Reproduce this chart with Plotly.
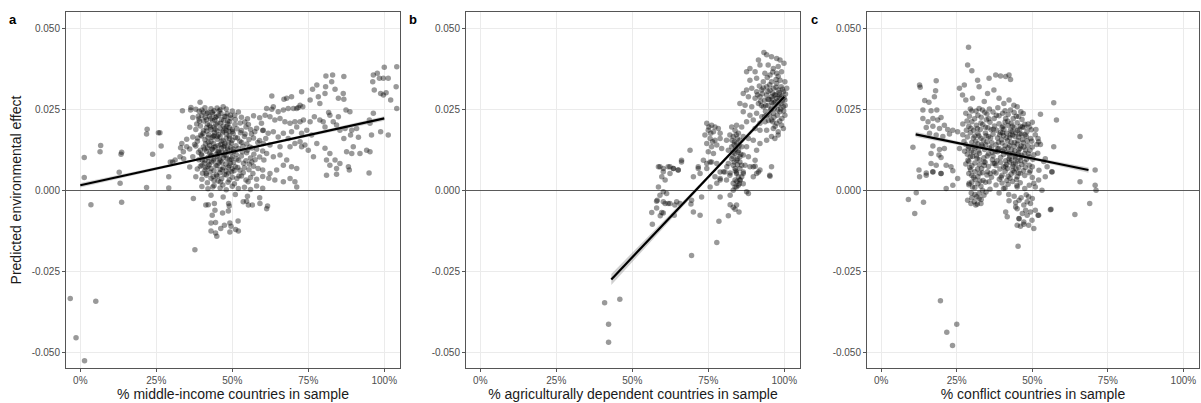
import plotly.graph_objects as go

# ---------------- data ----------------
panel_letters = ["a", "b", "c"]
x_titles = ["% middle-income countries in sample",
            "% agriculturally dependent countries in sample",
            "% conflict countries in sample"]
y_title = "Predicted environmental effect"
x_tickvals = [0, 0.25, 0.5, 0.75, 1.0]
x_ticktext = ["0%", "25%", "50%", "75%", "100%"]
y_tickvals = [-0.05, -0.025, 0.0, 0.025, 0.05]
y_ticktext = ["-0.050", "-0.025", "0.000", "0.025", "0.050"]

a_points = [
    (-0.033, -0.0333), (-0.014, -0.0454), (0.014, -0.0525), (0.051, -0.0341), (0.377, -0.0183),
    (0.035, -0.0044), (0.136, -0.0036), (0.013, 0.0102), (0.013, 0.0040), (0.067, 0.0139),
    (0.065, 0.0119), (0.136, 0.0118), (0.134, 0.0112), (0.128, 0.0056), (0.131, 0.0022),
    (0.220, 0.0189), (0.218, 0.0174), (0.257, 0.0178), (0.262, 0.0178), (0.238, 0.0112),
    (0.266, 0.0137), (0.218, 0.0009), (0.291, 0.0042), (0.291, 0.0008), (0.336, 0.0246),
    (0.364, 0.0256), (0.363, 0.0248), (0.394, 0.0272), (0.372, -0.0025), (0.413, -0.0045),
    (0.304, 0.0088), (0.296, 0.0088), (0.312, 0.0094), (0.328, 0.0104), (0.339, 0.0119),
    (0.350, 0.0135), (0.334, 0.0145),
    # below zero under the main cluster
    (0.421, -0.0044), (0.441, -0.0040), (0.434, -0.0076), (0.443, -0.0061), (0.430, -0.0100),
    (0.445, -0.0099), (0.430, -0.0125), (0.445, -0.0131), (0.449, -0.0141), (0.462, -0.0117),
    (0.468, -0.0069), (0.474, -0.0107), (0.488, -0.0040), (0.490, -0.0048), (0.487, -0.0063),
    (0.492, -0.0100), (0.492, -0.0128), (0.496, -0.0110), (0.511, -0.0120), (0.520, -0.0125),
    (0.519, -0.0094), (0.536, -0.0035), (0.553, -0.0045), (0.566, -0.0045), (0.591, -0.0040),
    (0.613, -0.0056), (0.616, -0.0048), (0.547, -0.0033),
    # main cluster
    (0.38, 0.0250), (0.40, 0.0248), (0.41, 0.0255), (0.43, 0.0252), (0.44, 0.0246), (0.45, 0.0254),
    (0.46, 0.0249), (0.48, 0.0251), (0.50, 0.0245), (0.52, 0.0242), (0.47, 0.0258), (0.42, 0.0241),
    (0.37, 0.0225), (0.39, 0.0220), (0.40, 0.0231), (0.415, 0.0218), (0.425, 0.0228), (0.435, 0.0215),
    (0.445, 0.0225), (0.455, 0.0232), (0.465, 0.0219), (0.475, 0.0228), (0.485, 0.0214), (0.495, 0.0223),
    (0.51, 0.0219), (0.53, 0.0226), (0.55, 0.0221), (0.57, 0.0230), (0.59, 0.0224),
    (0.36, 0.0195), (0.38, 0.0188), (0.395, 0.0199), (0.405, 0.0184), (0.415, 0.0193), (0.425, 0.0201),
    (0.43, 0.0187), (0.44, 0.0196), (0.45, 0.0183), (0.46, 0.0192), (0.47, 0.0199), (0.48, 0.0186),
    (0.49, 0.0194), (0.50, 0.0182), (0.515, 0.0190), (0.53, 0.0185), (0.545, 0.0196), (0.56, 0.0188),
    (0.58, 0.0192), (0.60, 0.0185),
    (0.35, 0.0158), (0.37, 0.0165), (0.385, 0.0152), (0.40, 0.0168), (0.41, 0.0156), (0.42, 0.0163),
    (0.43, 0.0151), (0.44, 0.0169), (0.45, 0.0158), (0.46, 0.0165), (0.47, 0.0153), (0.48, 0.0161),
    (0.49, 0.0168), (0.50, 0.0155), (0.51, 0.0163), (0.525, 0.0152), (0.54, 0.0166), (0.555, 0.0157),
    (0.57, 0.0162), (0.59, 0.0154), (0.61, 0.0160),
    (0.33, 0.0132), (0.36, 0.0128), (0.38, 0.0137), (0.395, 0.0124), (0.405, 0.0134), (0.415, 0.0121),
    (0.425, 0.0139), (0.435, 0.0127), (0.445, 0.0135), (0.455, 0.0122), (0.465, 0.0131), (0.475, 0.0138),
    (0.485, 0.0125), (0.495, 0.0133), (0.505, 0.0120), (0.52, 0.0129), (0.535, 0.0136), (0.55, 0.0124),
    (0.565, 0.0131), (0.58, 0.0127), (0.60, 0.0122),
    (0.34, 0.0098), (0.37, 0.0104), (0.39, 0.0095), (0.40, 0.0108), (0.41, 0.0093), (0.42, 0.0102),
    (0.43, 0.0110), (0.44, 0.0097), (0.45, 0.0105), (0.46, 0.0091), (0.47, 0.0101), (0.48, 0.0108),
    (0.49, 0.0094), (0.50, 0.0103), (0.515, 0.0097), (0.53, 0.0106), (0.545, 0.0092), (0.56, 0.0100),
    (0.575, 0.0095), (0.59, 0.0103),
    (0.36, 0.0072), (0.385, 0.0066), (0.40, 0.0078), (0.41, 0.0063), (0.42, 0.0074), (0.43, 0.0068),
    (0.44, 0.0061), (0.45, 0.0077), (0.46, 0.0065), (0.47, 0.0071), (0.48, 0.0060), (0.49, 0.0076),
    (0.50, 0.0067), (0.51, 0.0073), (0.525, 0.0062), (0.54, 0.0070), (0.555, 0.0064), (0.57, 0.0075),
    (0.585, 0.0068), (0.60, 0.0063),
    (0.38, 0.0042), (0.40, 0.0035), (0.415, 0.0047), (0.43, 0.0038), (0.44, 0.0031), (0.45, 0.0044),
    (0.465, 0.0036), (0.48, 0.0048), (0.49, 0.0033), (0.50, 0.0041), (0.515, 0.0037), (0.53, 0.0045),
    (0.545, 0.0032), (0.56, 0.0040), (0.58, 0.0035), (0.60, 0.0043), (0.62, 0.0038),
    (0.40, 0.0012), (0.42, 0.0005), (0.44, 0.0015), (0.46, 0.0008), (0.48, 0.0002), (0.50, 0.0013),
    (0.52, 0.0006), (0.54, 0.0010), (0.56, 0.0003), (0.58, 0.0014), (0.60, 0.0007),
    (0.43, -0.0015), (0.47, -0.0020), (0.51, -0.0012), (0.55, -0.0018), (0.59, -0.0022),
    (0.422, 0.0172), (0.438, 0.0145), (0.452, 0.0208), (0.468, 0.0178), (0.478, 0.0118), (0.432, 0.0088),
    (0.447, 0.0112), (0.462, 0.0142), (0.485, 0.0205), (0.418, 0.0205), (0.441, 0.0179), (0.456, 0.0085),
    (0.472, 0.0216), (0.488, 0.0147), (0.426, 0.0115), (0.494, 0.0084), (0.412, 0.0144), (0.436, 0.0236),
    (0.459, 0.0055), (0.481, 0.0174),
    (0.392, 0.0213), (0.404, 0.0176), (0.417, 0.0238), (0.428, 0.0196), (0.433, 0.0128), (0.446, 0.0203),
    (0.451, 0.0166), (0.463, 0.0237), (0.467, 0.0118), (0.476, 0.0191), (0.483, 0.0098), (0.491, 0.0212),
    (0.497, 0.0146), (0.503, 0.0176), (0.508, 0.0232), (0.386, 0.0162), (0.398, 0.0112), (0.408, 0.0084),
    (0.419, 0.0131), (0.427, 0.0057), (0.439, 0.0092), (0.448, 0.0048), (0.457, 0.0116), (0.466, 0.0087),
    (0.474, 0.0049), (0.487, 0.0071), (0.496, 0.0116), (0.504, 0.0086), (0.512, 0.0138), (0.518, 0.0071),
    (0.527, 0.0178), (0.533, 0.0119), (0.541, 0.0211), (0.548, 0.0143), (0.556, 0.0081), (0.563, 0.0174),
    (0.571, 0.0112), (0.584, 0.0148), (0.596, 0.0207), (0.604, 0.0094), (0.376, 0.0142), (0.388, 0.0229),
    (0.402, 0.0053), (0.411, 0.0226), (0.423, 0.0089), (0.437, 0.0167), (0.442, 0.0218), (0.454, 0.0139),
    (0.461, 0.0026), (0.471, 0.0135), (0.479, 0.0229), (0.489, 0.0182), (0.498, 0.0058), (0.507, 0.0021),
    (0.522, 0.0045), (0.537, 0.0084), (0.552, 0.0027), (0.568, 0.0052), (0.434, 0.0241), (0.414, 0.0052),
    (0.383, 0.0205), (0.389, 0.0118), (0.396, 0.0171), (0.401, 0.0094), (0.406, 0.0214), (0.409, 0.0128),
    (0.413, 0.0069), (0.416, 0.0183), (0.421, 0.0149), (0.424, 0.0079), (0.429, 0.0221), (0.431, 0.0106),
    (0.434, 0.0163), (0.437, 0.0043), (0.440, 0.0133), (0.443, 0.0189), (0.446, 0.0076), (0.449, 0.0228),
    (0.452, 0.0119), (0.455, 0.0172), (0.458, 0.0098), (0.461, 0.0207), (0.464, 0.0152), (0.467, 0.0064),
    (0.470, 0.0183), (0.473, 0.0109), (0.476, 0.0145), (0.479, 0.0082), (0.482, 0.0197), (0.485, 0.0131),
    (0.488, 0.0054), (0.491, 0.0161), (0.494, 0.0232), (0.497, 0.0097), (0.500, 0.0189), (0.503, 0.0128),
    (0.506, 0.0061), (0.509, 0.0203), (0.513, 0.0111), (0.517, 0.0162), (0.521, 0.0093), (0.526, 0.0208),
    (0.531, 0.0148), (0.536, 0.0055), (0.542, 0.0174), (0.547, 0.0116), (0.553, 0.0203), (0.558, 0.0134),
    (0.564, 0.0088), (0.574, 0.0181), (0.418, 0.0024), (0.436, 0.0011), (0.453, 0.0029), (0.469, 0.0017),
    (0.486, 0.0025), (0.395, 0.0075), (0.391, 0.0244), (0.405, 0.0241), (0.457, 0.0245), (0.483, 0.0237),
    # middle band 0.60-0.73
    (0.613, 0.0253), (0.630, 0.0250), (0.635, 0.0258), (0.651, 0.0243), (0.668, 0.0248), (0.684, 0.0253),
    (0.701, 0.0253), (0.717, 0.0256), (0.732, 0.0258), (0.608, 0.0232), (0.624, 0.0227), (0.640, 0.0217),
    (0.657, 0.0222), (0.673, 0.0212), (0.690, 0.0207), (0.706, 0.0212), (0.723, 0.0212),
    (0.602, 0.0186), (0.618, 0.0176), (0.635, 0.0181), (0.651, 0.0165), (0.668, 0.0176), (0.684, 0.0160),
    (0.695, 0.0181), (0.706, 0.0145), (0.728, 0.0135), (0.690, 0.0135), (0.657, 0.0135), (0.624, 0.0140),
    (0.602, 0.0145), (0.613, 0.0114), (0.635, 0.0104), (0.657, 0.0109), (0.679, 0.0094), (0.695, 0.0073),
    (0.712, 0.0068), (0.668, 0.0078), (0.646, 0.0063), (0.624, 0.0052), (0.640, 0.0032), (0.668, 0.0027),
    (0.690, 0.0037), (0.706, 0.0027), (0.712, 0.0011),
    # right part
    (0.630, 0.0291), (0.670, 0.0281), (0.679, 0.0284), (0.695, 0.0289), (0.723, 0.0263), (0.712, 0.0253),
    (0.728, 0.0304), (0.756, 0.0279), (0.783, 0.0289), (0.788, 0.0268), (0.761, 0.0171), (0.745, 0.0186),
    (0.728, 0.0176), (0.712, 0.0196), (0.734, 0.0217), (0.756, 0.0212), (0.750, 0.0124), (0.767, 0.0104),
    (0.778, 0.0145), (0.739, 0.0140), (0.723, 0.0150),
    (0.808, 0.0353), (0.830, 0.0356), (0.867, 0.0351), (0.827, 0.0335), (0.778, 0.0325), (0.764, 0.0312),
    (0.807, 0.0320), (0.805, 0.0299), (0.838, 0.0312), (0.865, 0.0299), (0.849, 0.0284), (0.867, 0.0281),
    (0.817, 0.0240), (0.821, 0.0232), (0.849, 0.0227), (0.874, 0.0248), (0.887, 0.0243), (0.770, 0.0227),
    (0.788, 0.0217), (0.799, 0.0212), (0.805, 0.0196), (0.832, 0.0212), (0.843, 0.0202), (0.854, 0.0186),
    (0.871, 0.0191), (0.893, 0.0186), (0.909, 0.0191), (0.915, 0.0164), (0.867, 0.0160), (0.889, 0.0171),
    (0.898, 0.0135), (0.893, 0.0114), (0.876, 0.0119), (0.805, 0.0130), (0.821, 0.0114), (0.810, 0.0094),
    (0.838, 0.0094), (0.854, 0.0083), (0.821, 0.0078), (0.843, 0.0068), (0.882, 0.0073), (0.885, 0.0063),
    (0.810, 0.0047), (0.843, 0.0050), (0.920, 0.0114), (0.942, 0.0124),
    (1.000, 0.0380), (1.041, 0.0381), (0.964, 0.0356), (0.977, 0.0361), (0.984, 0.0346), (0.997, 0.0346),
    (1.013, 0.0346), (0.962, 0.0335), (0.967, 0.0310), (0.988, 0.0299), (0.997, 0.0294), (1.006, 0.0301),
    (1.039, 0.0320), (1.021, 0.0279), (1.041, 0.0253), (0.964, 0.0238), (0.958, 0.0171), (0.988, 0.0181),
    (1.013, 0.0171), (0.951, 0.0217), (0.953, 0.0207), (0.950, 0.0054), (0.953, 0.0119),
]

b_points = [
    (0.409, -0.0346), (0.422, -0.0412), (0.422, -0.0468), (0.459, -0.0335), (0.695, -0.0200),
    (0.778, -0.0160), (0.785, -0.0095), (0.816, -0.0078), (0.822, -0.0044), (0.832, -0.0052),
    (0.843, -0.0045), (0.851, -0.0066), (0.838, -0.0058), (0.564, -0.0068), (0.566, -0.0104),
    (0.580, -0.0054), (0.597, -0.0068), (0.602, -0.0069), (0.592, -0.0078), (0.638, -0.0076),
    (0.701, -0.0066), (0.723, -0.0076), (0.693, -0.0042), (0.580, -0.0033), (0.602, -0.0035),
    (0.618, -0.0040), (0.646, -0.0035),
    (0.586, 0.0011), (0.602, -0.0004), (0.591, -0.0015), (0.613, -0.0009), (0.582, -0.0030),
    (0.608, -0.0040), (0.624, -0.0040), (0.640, -0.0045), (0.657, -0.0040),
    (0.695, -0.0030), (0.728, -0.0020),
    (0.789, -0.0020), (0.778, 0.0022), (0.756, 0.0011), (0.789, 0.0037), (0.822, -0.0015),
    (0.876, -0.0004), (0.882, -0.0009), (0.832, 0.0001), (0.838, 0.0011),
    (0.586, 0.0073), (0.602, 0.0068), (0.624, 0.0073), (0.635, 0.0068), (0.651, 0.0063),
    (0.597, 0.0042), (0.608, 0.0032), (0.662, 0.0088), (0.717, 0.0068),
    (0.745, 0.0083), (0.761, 0.0088), (0.772, 0.0042), (0.789, 0.0057), (0.811, 0.0073),
    (0.822, 0.0054), (0.843, 0.0057), (0.860, 0.0078), (0.865, 0.0052), (0.898, 0.0073),
    (0.920, 0.0063), (0.953, 0.0044), (0.855, 0.0032), (0.832, 0.0022),
    (0.849, 0.0016),
    # upper cluster
    (0.933, 0.0425), (0.942, 0.0418), (0.958, 0.0412), (0.975, 0.0407), (0.986, 0.0402), (0.999, 0.0392),
    (0.915, 0.0402), (0.920, 0.0387), (0.947, 0.0387), (0.964, 0.0376), (0.980, 0.0382), (0.887, 0.0376),
    (0.876, 0.0366), (0.904, 0.0366), (0.936, 0.0361), (0.953, 0.0356), (0.975, 0.0361), (0.991, 0.0366),
    (0.887, 0.0340), (0.909, 0.0346), (0.931, 0.0335), (0.958, 0.0335), (0.975, 0.0330), (0.986, 0.0340),
    (1.002, 0.0335), (0.876, 0.0310), (0.893, 0.0315), (0.909, 0.0304), (0.926, 0.0310), (0.942, 0.0320),
    (0.964, 0.0315), (0.980, 0.0310), (0.997, 0.0304), (1.008, 0.0315), (0.865, 0.0299), (0.882, 0.0289),
    (0.904, 0.0284), (0.920, 0.0289), (0.942, 0.0294), (0.958, 0.0289), (0.975, 0.0284), (0.991, 0.0289),
    (1.002, 0.0279), (0.854, 0.0268), (0.871, 0.0263), (0.893, 0.0258), (0.915, 0.0268), (0.931, 0.0258),
    (0.947, 0.0263), (0.964, 0.0268), (0.980, 0.0263), (0.997, 0.0258), (0.865, 0.0243), (0.887, 0.0232),
    (0.909, 0.0238), (0.926, 0.0227), (0.942, 0.0232), (0.964, 0.0238), (0.986, 0.0243), (1.002, 0.0232),
    (0.898, 0.0217), (0.920, 0.0207), (0.937, 0.0212), (0.958, 0.0217), (0.975, 0.0207), (0.991, 0.0201),
    (0.997, 0.0191), (0.876, 0.0212), (0.904, 0.0191), (0.920, 0.0186), (0.942, 0.0186), (0.964, 0.0191),
    (0.980, 0.0181), (0.958, 0.0166), (0.969, 0.0160), (0.942, 0.0155), (0.920, 0.0145), (0.898, 0.0155),
    (0.882, 0.0160), (0.980, 0.0171), (0.952, 0.0047), (0.909, 0.0052), (0.904, 0.0075),
    (0.962, 0.0300), (0.985, 0.0295), (0.970, 0.0272), (0.950, 0.0280), (0.990, 0.0320), (0.955, 0.0248),
    (0.918, 0.0322), (0.928, 0.0298), (0.935, 0.0278), (0.946, 0.0305), (0.952, 0.0326), (0.961, 0.0282),
    (0.968, 0.0294), (0.973, 0.0318), (0.978, 0.0276), (0.983, 0.0301), (0.989, 0.0268), (0.994, 0.0312),
    (0.999, 0.0286), (1.004, 0.0297), (0.957, 0.0252), (0.966, 0.0226), (0.979, 0.0248), (0.992, 0.0222),
    (0.938, 0.0244), (0.925, 0.0262), (0.948, 0.0216), (0.970, 0.0198), (0.944, 0.0348), (0.962, 0.0365),
    (0.980, 0.0352),
    (0.912, 0.0295), (0.922, 0.0275), (0.931, 0.0316), (0.939, 0.0262), (0.946, 0.0281), (0.953, 0.0309),
    (0.959, 0.0271), (0.967, 0.0253), (0.972, 0.0295), (0.977, 0.0232), (0.984, 0.0285), (0.988, 0.0251),
    (0.993, 0.0276), (0.998, 0.0245), (1.003, 0.0262), (0.962, 0.0212), (0.985, 0.0214), (0.951, 0.0232),
    (0.935, 0.0228), (0.973, 0.0342),
    # vertical band near 0.83-0.87
    (0.838, 0.0186), (0.849, 0.0176), (0.832, 0.0166), (0.854, 0.0155), (0.843, 0.0145), (0.827, 0.0135),
    (0.849, 0.0124), (0.838, 0.0114), (0.854, 0.0104), (0.843, 0.0093), (0.832, 0.0078), (0.854, 0.0068),
    (0.843, 0.0052), (0.865, 0.0057), (0.860, 0.0042), (0.821, 0.0047), (0.838, 0.0032),
    (0.821, 0.0171), (0.865, 0.0166), (0.860, 0.0135), (0.832, 0.0119), (0.865, 0.0109), (0.827, 0.0098),
    (0.854, 0.0088), (0.838, 0.0068), (0.871, 0.0078), (0.849, 0.0042), (0.865, 0.0021), (0.843, 0.0011),
    (0.854, 0.0032), (0.810, 0.0155), (0.816, 0.0124), (0.816, 0.0083), (0.805, 0.0057), (0.876, 0.0135),
    (0.882, 0.0104), (0.887, 0.0073), (0.904, 0.0093), (0.909, 0.0124), (0.898, 0.0042), (0.915, 0.0057),
    (0.958, 0.0073), (0.860, 0.0196), (0.843, 0.0201), (0.827, 0.0196),
    (0.846, 0.0160), (0.836, 0.0150), (0.851, 0.0138), (0.840, 0.0128), (0.846, 0.0098), (0.835, 0.0088),
    (0.842, 0.0172), (0.835, 0.0141), (0.848, 0.0118), (0.831, 0.0105), (0.846, 0.0079), (0.839, 0.0061),
    (0.852, 0.0021), (0.828, 0.0155), (0.857, 0.0112), (0.844, 0.0028),
    # left cluster near 0.70-0.79
    (0.745, 0.0207), (0.761, 0.0201), (0.772, 0.0196), (0.783, 0.0191), (0.750, 0.0186), (0.767, 0.0181),
    (0.789, 0.0176), (0.739, 0.0171), (0.756, 0.0160), (0.772, 0.0155), (0.789, 0.0160), (0.745, 0.0145),
    (0.761, 0.0135), (0.778, 0.0140), (0.750, 0.0119), (0.767, 0.0114), (0.794, 0.0129), (0.734, 0.0093),
    (0.756, 0.0088), (0.778, 0.0083), (0.745, 0.0068), (0.717, 0.0073), (0.690, 0.0124), (0.662, 0.0093),
    (0.635, 0.0068), (0.618, 0.0073), (0.602, 0.0058), (0.591, 0.0073), (0.624, 0.0052),
    (0.651, 0.0063), (0.701, 0.0042), (0.723, 0.0052), (0.800, 0.0058), (0.810, 0.0032), (0.789, 0.0032),
    (0.752, 0.0196), (0.758, 0.0176), (0.764, 0.0150),
]

c_points = [
    (0.196, -0.0340), (0.217, -0.0437), (0.250, -0.0412), (0.236, -0.0478), (0.453, -0.0172),
    (0.111, -0.0071), (0.140, -0.0036), (0.090, -0.0028), (0.562, -0.0058), (0.641, -0.0074),
    (0.690, -0.0040), (0.412, -0.0066), (0.417, -0.0081), (0.450, -0.0056), (0.456, -0.0086),
    (0.467, -0.0071), (0.483, -0.0076), (0.494, -0.0066), (0.499, -0.0092), (0.519, -0.0076),
    (0.505, -0.0117), (0.488, -0.0107), (0.472, -0.0104), (0.461, -0.0110), (0.450, -0.0107),
    (0.116, -0.0007),
    (0.286, -0.0030), (0.297, -0.0040), (0.313, -0.0045), (0.330, -0.0040), (0.324, -0.0025),
    (0.308, -0.0035), (0.324, -0.0009), (0.335, 0.0001), (0.302, 0.0011), (0.291, 0.0022),
    (0.318, -0.0042), (0.300, -0.0022),
    (0.423, -0.0032), (0.445, -0.0038), (0.456, -0.0030), (0.472, -0.0045), (0.483, -0.0035),
    (0.494, -0.0040), (0.478, -0.0061), (0.445, -0.0051), (0.456, -0.0087), (0.472, -0.0097),
    (0.510, -0.0061), (0.521, -0.0076), (0.560, -0.0059),
    (0.127, 0.0042), (0.149, 0.0047), (0.171, 0.0058), (0.198, 0.0052), (0.215, 0.0006),
    (0.237, 0.0016), (0.253, 0.0037), (0.521, 0.0032), (0.510, 0.0011), (0.532, 0.0001),
    (0.543, 0.0042), (0.565, 0.0058),
    # sparse left / top
    (0.289, 0.0441), (0.286, 0.0387), (0.300, 0.0369), (0.127, 0.0325), (0.129, 0.0318),
    (0.182, 0.0338), (0.180, 0.0307), (0.144, 0.0277), (0.158, 0.0272), (0.176, 0.0289),
    (0.138, 0.0248), (0.165, 0.0246), (0.184, 0.0248), (0.138, 0.0222), (0.155, 0.0212),
    (0.171, 0.0222), (0.187, 0.0217), (0.198, 0.0225), (0.149, 0.0194), (0.171, 0.0198),
    (0.193, 0.0191), (0.209, 0.0201), (0.220, 0.0188), (0.160, 0.0176), (0.182, 0.0171),
    (0.204, 0.0166), (0.226, 0.0174), (0.237, 0.0186), (0.253, 0.0181), (0.105, 0.0133),
    (0.171, 0.0137), (0.193, 0.0126), (0.209, 0.0129), (0.259, 0.0129), (0.165, 0.0114),
    (0.191, 0.0109), (0.198, 0.0102), (0.165, 0.0083), (0.182, 0.0078), (0.215, 0.0078),
    (0.231, 0.0073), (0.171, 0.0057), (0.198, 0.0052), (0.237, 0.0061), (0.125, 0.0063),
    (0.149, 0.0054),
    # sparse right
    (0.571, 0.0270), (0.580, 0.0217), (0.527, 0.0235), (0.571, 0.0135), (0.519, 0.0160),
    (0.521, 0.0150), (0.565, 0.0057), (0.543, 0.0098), (0.538, 0.0089), (0.549, 0.0073),
    (0.658, 0.0166), (0.708, 0.0063), (0.708, 0.0016), (0.711, 0.0001), (0.658, 0.0027),
    # top of dense cluster
    (0.324, 0.0320), (0.357, 0.0346), (0.379, 0.0356), (0.395, 0.0353), (0.412, 0.0351),
    (0.423, 0.0356), (0.428, 0.0342), (0.352, 0.0299), (0.341, 0.0274), (0.324, 0.0253),
    (0.373, 0.0310), (0.390, 0.0284), (0.406, 0.0268), (0.423, 0.0279), (0.439, 0.0263),
    (0.450, 0.0258), (0.319, 0.0340), (0.275, 0.0325), (0.259, 0.0315), (0.269, 0.0294),
    (0.280, 0.0279), (0.302, 0.0284),
    # dense core
    (0.28, 0.0238), (0.30, 0.0245), (0.32, 0.0232), (0.335, 0.0248), (0.35, 0.0236), (0.37, 0.0242),
    (0.39, 0.0230), (0.41, 0.0246), (0.42, 0.0234), (0.44, 0.0240), (0.455, 0.0228), (0.47, 0.0237),
    (0.27, 0.0205), (0.29, 0.0198), (0.30, 0.0212), (0.315, 0.0201), (0.33, 0.0208), (0.345, 0.0195),
    (0.36, 0.0210), (0.375, 0.0199), (0.39, 0.0206), (0.40, 0.0193), (0.41, 0.0211), (0.42, 0.0200),
    (0.43, 0.0207), (0.44, 0.0194), (0.45, 0.0209), (0.46, 0.0198), (0.475, 0.0204), (0.49, 0.0196),
    (0.50, 0.0210),
    (0.27, 0.0172), (0.285, 0.0165), (0.295, 0.0178), (0.31, 0.0168), (0.32, 0.0175), (0.33, 0.0161),
    (0.345, 0.0177), (0.355, 0.0166), (0.37, 0.0173), (0.385, 0.0162), (0.395, 0.0179), (0.405, 0.0169),
    (0.415, 0.0176), (0.425, 0.0163), (0.435, 0.0171), (0.445, 0.0178), (0.455, 0.0165), (0.465, 0.0174),
    (0.48, 0.0167), (0.495, 0.0160), (0.51, 0.0172),
    (0.28, 0.0142), (0.29, 0.0135), (0.30, 0.0148), (0.31, 0.0131), (0.32, 0.0144), (0.335, 0.0137),
    (0.35, 0.0150), (0.365, 0.0133), (0.38, 0.0141), (0.39, 0.0129), (0.40, 0.0146), (0.41, 0.0138),
    (0.42, 0.0132), (0.43, 0.0149), (0.44, 0.0136), (0.45, 0.0143), (0.46, 0.0130), (0.47, 0.0147),
    (0.485, 0.0139), (0.50, 0.0134), (0.515, 0.0142),
    (0.285, 0.0112), (0.295, 0.0104), (0.305, 0.0118), (0.315, 0.0107), (0.325, 0.0115), (0.34, 0.0101),
    (0.355, 0.0113), (0.37, 0.0106), (0.385, 0.0119), (0.395, 0.0102), (0.405, 0.0111), (0.415, 0.0117),
    (0.425, 0.0104), (0.435, 0.0113), (0.445, 0.0100), (0.455, 0.0116), (0.465, 0.0108), (0.475, 0.0114),
    (0.49, 0.0103), (0.505, 0.0110),
    (0.28, 0.0082), (0.29, 0.0089), (0.30, 0.0076), (0.31, 0.0085), (0.325, 0.0079), (0.34, 0.0088),
    (0.355, 0.0074), (0.37, 0.0083), (0.38, 0.0077), (0.395, 0.0086), (0.405, 0.0072), (0.415, 0.0081),
    (0.425, 0.0088), (0.435, 0.0075), (0.445, 0.0084), (0.455, 0.0071), (0.465, 0.0080), (0.475, 0.0087),
    (0.49, 0.0078), (0.50, 0.0073),
    (0.29, 0.0052), (0.30, 0.0046), (0.31, 0.0058), (0.32, 0.0043), (0.335, 0.0055), (0.35, 0.0048),
    (0.365, 0.0041), (0.38, 0.0054), (0.40, 0.0047), (0.41, 0.0059), (0.42, 0.0044), (0.43, 0.0051),
    (0.44, 0.0057), (0.45, 0.0042), (0.46, 0.0053), (0.475, 0.0046), (0.49, 0.0055), (0.50, 0.0040),
    (0.29, 0.0018), (0.30, 0.0026), (0.31, 0.0009), (0.32, 0.0021), (0.33, 0.0013), (0.345, 0.0025),
    (0.36, 0.0004), (0.38, 0.0017), (0.40, 0.0023), (0.41, 0.0008), (0.42, 0.0019), (0.435, 0.0028),
    (0.45, 0.0011), (0.46, 0.0024), (0.475, 0.0006), (0.49, 0.0016), (0.505, 0.0022),
    (0.305, 0.0162), (0.325, 0.0095), (0.342, 0.0126), (0.318, 0.0191), (0.298, 0.0121), (0.332, 0.0068),
    (0.428, 0.0186), (0.442, 0.0122), (0.452, 0.0091), (0.418, 0.0153), (0.468, 0.0157), (0.436, 0.0062),
    (0.458, 0.0189), (0.478, 0.0125), (0.412, 0.0092), (0.448, 0.0034), (0.364, 0.0187), (0.378, 0.0121),
    (0.352, 0.0058), (0.398, 0.0156),
    (0.292, 0.0229), (0.306, 0.0186), (0.313, 0.0152), (0.322, 0.0122), (0.328, 0.0188), (0.338, 0.0155),
    (0.344, 0.0087), (0.348, 0.0218), (0.358, 0.0131), (0.362, 0.0162), (0.368, 0.0095), (0.374, 0.0222),
    (0.382, 0.0186), (0.388, 0.0149), (0.393, 0.0066), (0.402, 0.0178), (0.407, 0.0127), (0.412, 0.0222),
    (0.418, 0.0068), (0.422, 0.0114), (0.427, 0.0171), (0.432, 0.0093), (0.437, 0.0222), (0.441, 0.0148),
    (0.446, 0.0067), (0.451, 0.0185), (0.456, 0.0127), (0.461, 0.0093), (0.466, 0.0219), (0.471, 0.0061),
    (0.476, 0.0172), (0.481, 0.0096), (0.486, 0.0205), (0.492, 0.0124), (0.497, 0.0187), (0.502, 0.0096),
    (0.287, 0.0093), (0.296, 0.0063), (0.303, 0.0136), (0.311, 0.0034), (0.317, 0.0099), (0.326, 0.0053),
    (0.331, 0.0226), (0.337, 0.0031), (0.346, 0.0141), (0.353, 0.0193), (0.357, 0.0027), (0.367, 0.0118),
    (0.373, 0.0058), (0.383, 0.0092), (0.391, 0.0035), (0.403, 0.0198), (0.416, 0.0031), (0.425, 0.0139),
    (0.433, 0.0181), (0.443, 0.0105), (0.453, 0.0153), (0.463, 0.0137), (0.473, 0.0195), (0.483, 0.0153),
    (0.276, 0.0121), (0.282, 0.0186), (0.274, 0.0151), (0.295, 0.0251), (0.343, 0.0241), (0.386, 0.0255),
    (0.428, 0.0248), (0.462, 0.0243), (0.512, 0.0188), (0.518, 0.0115), (0.522, 0.0062), (0.527, 0.0142),
    (0.310, -0.0012), (0.340, -0.0015), (0.390, -0.0008), (0.440, -0.0018), (0.480, -0.0013),
    (0.500, -0.0025),
    (0.284, 0.0214), (0.288, 0.0128), (0.293, 0.0071), (0.297, 0.0192), (0.302, 0.0105), (0.306, 0.0041),
    (0.309, 0.0221), (0.314, 0.0135), (0.319, 0.0066), (0.323, 0.0168), (0.327, 0.0029), (0.332, 0.0141),
    (0.336, 0.0203), (0.341, 0.0077), (0.347, 0.0169), (0.351, 0.0106), (0.356, 0.0221), (0.361, 0.0052),
    (0.366, 0.0147), (0.371, 0.0189), (0.376, 0.0083), (0.381, 0.0232), (0.386, 0.0128), (0.392, 0.0172),
    (0.397, 0.0041), (0.401, 0.0122), (0.406, 0.0189), (0.411, 0.0075), (0.414, 0.0162), (0.419, 0.0213),
    (0.423, 0.0097), (0.426, 0.0038), (0.431, 0.0125), (0.434, 0.0198), (0.438, 0.0081), (0.443, 0.0166),
    (0.447, 0.0229), (0.451, 0.0112), (0.454, 0.0054), (0.459, 0.0174), (0.463, 0.0103), (0.467, 0.0196),
    (0.472, 0.0134), (0.477, 0.0071), (0.482, 0.0181), (0.487, 0.0113), (0.493, 0.0061), (0.498, 0.0152),
    (0.314, 0.0245), (0.358, 0.0251), (0.402, 0.0238), (0.449, 0.0015), (0.422, -0.0012), (0.347, -0.0005),
    (0.298, -0.0008), (0.331, -0.0028), (0.316, -0.0019), (0.463, -0.0022), (0.488, -0.0019), (0.405, 0.0006),
]

# linear-fit lines with their confidence band
a_fit_x = [0.0, 0.5, 1.0]
a_fit_y = [0.0016, 0.0119, 0.0222]
a_fit_se = [0.0007, 0.0003, 0.0007]
b_fit_x = [0.431, 0.75, 1.0]
b_fit_y = [-0.0274, 0.0041, 0.0289]
b_fit_se = [0.0017, 0.0005, 0.0009]
c_fit_x = [0.114, 0.40, 0.686]
c_fit_y = [0.0173, 0.0118, 0.0063]
c_fit_se = [0.0008, 0.0003, 0.0008]

# ---------------- figure ----------------
W, H = 1201, 403
panels_px = [(66, 400), (466, 800), (867, 1199)]
ydom = [1 - 368 / H, 1 - 12 / H]
x_range = [-0.047, 1.0517]
y_range = [-0.0547, 0.0550]
FONT = "Liberation Sans, Arial, Helvetica, sans-serif"

fig = go.Figure()
points = [a_points, b_points, c_points]
fits = [(a_fit_x, a_fit_y, a_fit_se), (b_fit_x, b_fit_y, b_fit_se), (c_fit_x, c_fit_y, c_fit_se)]

for i in range(3):
    sfx = "" if i == 0 else str(i + 1)
    xs = [p[0] for p in points[i]]
    ys = [p[1] for p in points[i]]
    fig.add_trace(go.Scatter(
        x=xs, y=ys, mode="markers", xaxis="x" + sfx, yaxis="y" + sfx,
        marker=dict(size=5.5, color="rgba(0,0,0,0.4)", line=dict(width=0)),
        hoverinfo="skip", showlegend=False))
    fx, fy, fse = fits[i]
    hi = [y + s for y, s in zip(fy, fse)]
    lo = [y - s for y, s in zip(fy, fse)]
    fig.add_trace(go.Scatter(
        x=fx + fx[::-1], y=hi + lo[::-1], mode="lines", fill="toself",
        fillcolor="rgba(150,150,150,0.45)", line=dict(width=0),
        xaxis="x" + sfx, yaxis="y" + sfx, hoverinfo="skip", showlegend=False))
    fig.add_trace(go.Scatter(
        x=fx, y=fy, mode="lines", line=dict(color="black", width=2.2),
        xaxis="x" + sfx, yaxis="y" + sfx, hoverinfo="skip", showlegend=False))

    x0, x1 = panels_px[i]
    axis_common = dict(showline=True, mirror=True, linecolor="#555555", linewidth=1,
                       showgrid=True, gridcolor="#ebebeb", gridwidth=1,
                       ticks="outside", ticklen=3, tickcolor="#555555", tickwidth=1,
                       tickfont=dict(family=FONT, size=10, color="#4d4d4d"))
    fig.layout["xaxis" + sfx] = dict(
        domain=[x0 / W, x1 / W], anchor="y" + sfx, range=x_range,
        tickvals=x_tickvals, ticktext=x_ticktext, zeroline=False,
        title=dict(text=x_titles[i], font=dict(family=FONT, size=14, color="#1a1a1a"), standoff=2),
        **axis_common)
    fig.layout["yaxis" + sfx] = dict(
        domain=ydom, anchor="x" + sfx, range=y_range,
        tickvals=y_tickvals, ticktext=y_ticktext,
        zeroline=True, zerolinecolor="#5a5a5a", zerolinewidth=1.3,
        title=dict(text=y_title if i == 0 else "", font=dict(family=FONT, size=14, color="#1a1a1a"), standoff=6),
        **axis_common)
    fig.add_annotation(text="<b>%s</b>" % panel_letters[i], xref="paper", yref="paper",
                       x=(x0 - 53) / W, y=1 - 19 / H, xanchor="center", yanchor="middle",
                       showarrow=False, font=dict(family=FONT, size=13, color="black"))

fig.update_layout(width=W, height=H, margin=dict(l=0, r=0, t=0, b=0),
                  plot_bgcolor="white", paper_bgcolor="white", showlegend=False)

fig.write_html("out.html", config={"displayModeBar": False},
               post_script="document.body.style.margin='0';document.body.style.overflow='hidden';")
